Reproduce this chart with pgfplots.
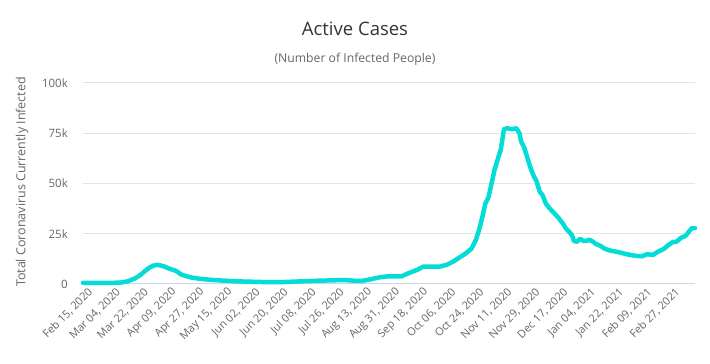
\documentclass[border=0pt]{standalone}
\usepackage{pgfplots}
\pgfplotsset{compat=1.18}
\usepackage{fontspec}
\setmainfont{Open Sans}
\definecolor{linec}{RGB}{4,221,215}
\definecolor{gridc}{RGB}{228,228,228}
\definecolor{axisc}{RGB}{204,214,235}
\definecolor{labc}{RGB}{102,102,102}
\definecolor{titc}{RGB}{51,51,51}
\begin{document}
\begin{tikzpicture}[x=1pt,y=1pt]
\useasboundingbox (0,0) rectangle (710,364);
\begin{axis}[
  at={(83pt,80pt)}, anchor=south west,
  scale only axis, width=612pt, height=201pt,
  xmin=0, xmax=394, ymin=0, ymax=100,
  clip=false,
  axis y line*=left,
  y axis line style={draw=none},
  axis x line*=bottom,
  x axis line style={axisc, line width=1pt, -},
  ytick={0,25,50,75,100},
  yticklabels={0,25k,50k,75k,100k},
  ymajorgrids, grid style={gridc, line width=1pt},
  major tick length=0pt,
  xtick={0,18,...,378},
  xticklabels={{Feb 15, 2020},{Mar 04, 2020},{Mar 22, 2020},{Apr 09, 2020},{Apr 27, 2020},{May 15, 2020},{Jun 02, 2020},{Jun 20, 2020},{Jul 08, 2020},{Jul 26, 2020},{Aug 13, 2020},{Aug 31, 2020},{Sep 18, 2020},{Oct 06, 2020},{Oct 24, 2020},{Nov 11, 2020},{Nov 29, 2020},{Dec 17, 2020},{Jan 04, 2021},{Jan 22, 2021},{Feb 09, 2021},{Feb 27, 2021}},
  x tick label style={rotate=45, anchor=east, font=\fontsize{11}{12}\selectfont, text=labc, yshift=-10pt, xshift=1pt, inner sep=0pt},
  y tick label style={font=\fontsize{11.5}{13}\selectfont, text=labc, xshift=-15pt, anchor=east, inner sep=0pt},
]
\addplot[linec, line width=4.5pt, line join=round, line cap=round] coordinates {
(0,0.6)(10,0.6)(20,0.6)(24,0.7)(28,1.2)(31,2.0)(34,3.0)(37,4.5)(40,6.5)(43,8.3)(46,9.3)(48,9.5)(50,9.2)(53,8.5)(56,7.5)(59,6.8)(61,6.0)(63,4.8)(66,4.0)(70,3.2)(75,2.6)(82,2.1)(90,1.7)(100,1.3)(110,1.1)(120,0.9)(130,1.0)(140,1.3)(150,1.6)(160,1.8)(168,2.0)(175,1.6)(180,1.6)(185,2.3)(190,3.2)(196,3.8)(205,3.8)(210,5.5)(215,7.0)(219,8.6)(225,8.7)(230,8.7)(234,9.5)(238,11)(242,13)(246,15)(250,17.5)(253,22)(255,27)(257,33)(259,40)(261,43)(263,50)(265,57)(267,62)(269,67)(270,72)(271,77)(273,77.5)(276,77)(279,77.5)(281,75)(282,71)(284,68)(286,63)(288,58)(290,54)(292,51)(294,46)(296,44)(298,40)(300,38)(303,35.5)(306,33)(309,30)(311,27.5)(313,26)(315,24)(316,21.5)(318,21)(320,22.5)(322,21.5)(324,21.5)(326,22)(328,21.2)(330,20)(333,19)(336,17.5)(340,16.5)(344,16)(348,15.2)(352,14.5)(356,14.0)(360,13.8)(363,14.8)(367,14.5)(370,16)(374,17.5)(377,19.5)(380,21)(382,21)(385,23)(388,24)(390,26)(392,27.8)(394,27.8)
};
\end{axis}
\node[text=titc, font=\fontsize{18.5}{22}\selectfont] at (355,335) {Active Cases};
\node[text=labc, font=\fontsize{12.2}{14}\selectfont] at (355,305) {(Number of Infected People)};
\node[text=labc, rotate=90, font=\fontsize{12.5}{14}\selectfont] at (22,182) {Total Coronavirus Currently Infected};
\end{tikzpicture}
\end{document}
